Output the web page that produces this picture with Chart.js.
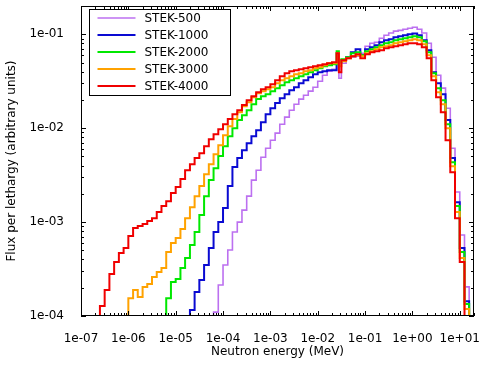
<!DOCTYPE html>
<html>
<head>
<meta charset="utf-8">
<script src="https://cdn.jsdelivr.net/npm/chart.js@4.4.1/dist/chart.umd.min.js"></script>
<style>
  html, body { margin: 0; padding: 0; background: #fff; }
  canvas { display: block; }
</style>
</head>
<body>
<canvas id="fluxChart" width="484" height="365"></canvas>
<script>
// Energy group boundaries (MeV), lower edges + final upper edge
const energyEdges = [
  1.00e-7, 1.26e-7, 1.58e-7, 2.00e-7, 2.51e-7, 3.16e-7, 3.98e-7, 5.01e-7, 6.31e-7, 7.94e-7,
  1.00e-6, 1.26e-6, 1.58e-6, 2.00e-6, 2.51e-6, 3.16e-6, 3.98e-6, 5.01e-6, 6.31e-6, 7.94e-6,
  1.00e-5, 1.26e-5, 1.58e-5, 2.00e-5, 2.51e-5, 3.16e-5, 3.98e-5, 5.01e-5, 6.31e-5, 7.94e-5,
  1.00e-4, 1.26e-4, 1.58e-4, 2.00e-4, 2.51e-4, 3.16e-4, 3.98e-4, 5.01e-4, 6.31e-4, 7.94e-4,
  1.00e-3, 1.26e-3, 1.58e-3, 2.00e-3, 2.51e-3, 3.16e-3, 3.98e-3, 5.01e-3, 6.31e-3, 7.94e-3,
  1.00e-2, 1.26e-2, 1.58e-2, 2.00e-2, 2.51e-2, 2.80e-2, 3.16e-2, 3.98e-2, 5.01e-2, 6.31e-2, 7.94e-2,
  1.00e-1, 1.26e-1, 1.58e-1, 2.00e-1, 2.51e-1, 3.16e-1, 3.98e-1, 5.01e-1, 6.31e-1, 7.94e-1,
  1.00, 1.26, 1.58, 2.00, 2.51, 3.16, 3.98, 5.01, 6.31, 7.94,
  10.0, 12.6, 15.8, 20.0
];

// flux per lethargy for each group (1e-5 = below the plotted range)
const stek500 = [
  1e-5, 1e-5, 1e-5, 1e-5, 1e-5, 1e-5, 1e-5, 1e-5, 1e-5, 1e-5,
  1e-5, 1e-5, 1e-5, 1e-5, 1e-5, 1e-5, 1e-5, 1e-5, 1e-5, 1e-5,
  1e-5, 1e-5, 1e-5, 1e-5, 1e-5, 1e-5, 1e-5, 1e-5, 1.10e-4, 2.14e-4,
  3.49e-4, 5.04e-4, 7.83e-4, 1.00e-3, 1.34e-3, 1.89e-3, 2.80e-3, 3.57e-3, 4.91e-3, 6.12e-3,
  7.45e-3, 8.85e-3, 1.10e-2, 1.31e-2, 1.55e-2, 1.80e-2, 2.04e-2, 2.24e-2, 2.48e-2, 2.73e-2,
  3.16e-2, 3.66e-2, 4.04e-2, 4.24e-2, 5.04e-2, 3.40e-2, 4.91e-2, 5.56e-2, 5.69e-2, 5.83e-2, 6.28e-2,
  7.45e-2, 8.02e-2, 8.22e-2, 9.06e-2, 9.75e-2, 1.03e-1, 1.08e-1, 1.10e-1, 1.13e-1, 1.16e-1,
  1.19e-1, 1.13e-1, 1.03e-1, 8.02e-2, 5.69e-2, 3.66e-2, 2.67e-2, 1.63e-2, 6.12e-3, 2.09e-3,
  7.28e-4, 2.04e-4, 1e-5
];
const stek1000 = [
  1e-5, 1e-5, 1e-5, 1e-5, 1e-5, 1e-5, 1e-5, 1e-5, 1e-5, 1e-5,
  1e-5, 1e-5, 1e-5, 1e-5, 1e-5, 1e-5, 1e-5, 1e-5, 1e-5, 1e-5,
  1e-5, 1e-5, 1e-5, 1.16e-4, 1.80e-4, 2.41e-4, 3.49e-4, 5.29e-4, 7.83e-4, 1.00e-3,
  1.41e-3, 2.42e-3, 3.85e-3, 4.80e-3, 5.83e-3, 6.92e-3, 8.22e-3, 9.52e-3, 1.16e-2, 1.41e-2,
  1.63e-2, 1.85e-2, 2.08e-2, 2.30e-2, 2.53e-2, 2.73e-2, 3.01e-2, 3.24e-2, 3.49e-2, 3.75e-2,
  3.94e-2, 4.04e-2, 4.14e-2, 4.14e-2, 6.28e-2, 5.04e-2, 5.28e-2, 5.69e-2, 6.44e-2, 6.92e-2, 5.98e-2,
  6.92e-2, 7.28e-2, 7.64e-2, 8.22e-2, 8.63e-2, 8.85e-2, 9.29e-2, 9.52e-2, 9.75e-2, 1.00e-1,
  1.02e-1, 9.75e-2, 8.63e-2, 6.76e-2, 3.94e-2, 3.01e-2, 2.30e-2, 1.22e-2, 4.80e-3, 1.63e-3,
  5.29e-4, 1.44e-4, 1e-5
];
const stek2000 = [
  1e-5, 1e-5, 1e-5, 1e-5, 1e-5, 1e-5, 1e-5, 1e-5, 1e-5, 1e-5,
  1e-5, 1e-5, 1e-5, 1e-5, 1e-5, 1e-5, 1e-5, 1e-5, 1.55e-4, 2.30e-4,
  2.48e-4, 3.24e-4, 4.14e-4, 5.70e-4, 7.83e-4, 1.19e-3, 1.89e-3, 2.80e-3, 3.75e-3, 5.04e-3,
  6.44e-3, 8.22e-3, 1.00e-2, 1.22e-2, 1.37e-2, 1.55e-2, 1.80e-2, 2.04e-2, 2.19e-2, 2.30e-2,
  2.48e-2, 2.67e-2, 2.86e-2, 3.08e-2, 3.24e-2, 3.40e-2, 3.57e-2, 3.75e-2, 3.94e-2, 4.14e-2,
  4.35e-2, 4.57e-2, 4.67e-2, 4.80e-2, 6.60e-2, 5.04e-2, 5.42e-2, 5.69e-2, 6.28e-2, 6.44e-2, 5.98e-2,
  6.60e-2, 6.92e-2, 7.28e-2, 7.64e-2, 8.02e-2, 8.22e-2, 8.63e-2, 8.85e-2, 9.06e-2, 9.29e-2,
  9.52e-2, 9.29e-2, 8.43e-2, 6.44e-2, 3.85e-2, 2.67e-2, 1.98e-2, 1.10e-2, 4.35e-3, 1.48e-3,
  4.80e-4, 1.34e-4, 1e-5
];
const stek3000 = [
  1e-5, 1e-5, 1e-5, 1e-5, 1e-5, 1e-5, 1e-5, 1e-5, 1e-5, 1e-5,
  1.55e-4, 1.89e-4, 1.59e-4, 2.04e-4, 2.19e-4, 2.60e-4, 2.94e-4, 3.24e-4, 4.80e-4, 5.98e-4,
  6.76e-4, 8.43e-4, 1.10e-3, 1.44e-3, 1.89e-3, 2.42e-3, 3.24e-3, 4.14e-3, 5.29e-3, 6.60e-3,
  8.42e-3, 1.05e-2, 1.25e-2, 1.48e-2, 1.71e-2, 1.89e-2, 2.14e-2, 2.36e-2, 2.48e-2, 2.60e-2,
  2.73e-2, 3.01e-2, 3.24e-2, 3.40e-2, 3.57e-2, 3.75e-2, 3.85e-2, 4.04e-2, 4.14e-2, 4.35e-2,
  4.46e-2, 4.67e-2, 4.91e-2, 4.91e-2, 6.28e-2, 4.57e-2, 5.16e-2, 5.56e-2, 5.83e-2, 5.98e-2, 5.83e-2,
  6.28e-2, 6.60e-2, 6.92e-2, 7.28e-2, 7.45e-2, 7.64e-2, 8.02e-2, 8.22e-2, 8.43e-2, 8.63e-2,
  8.85e-2, 8.63e-2, 7.83e-2, 5.98e-2, 3.57e-2, 2.42e-2, 1.80e-2, 1.00e-2, 3.94e-3, 1.28e-3,
  4.14e-4, 1.19e-4, 1e-5
];
const stek4000 = [
  1e-5, 1e-5, 1e-5, 1e-5, 1.28e-4, 1.89e-4, 2.80e-4, 3.75e-4, 4.68e-4, 5.29e-4,
  7.10e-4, 8.63e-4, 9.06e-4, 9.52e-4, 1.03e-3, 1.10e-3, 1.28e-3, 1.48e-3, 1.67e-3, 2.04e-3,
  2.36e-3, 2.87e-3, 3.57e-3, 4.14e-3, 4.80e-3, 5.42e-3, 6.44e-3, 7.64e-3, 8.63e-3, 9.75e-3,
  1.10e-2, 1.25e-2, 1.41e-2, 1.55e-2, 1.76e-2, 1.98e-2, 2.19e-2, 2.42e-2, 2.60e-2, 2.73e-2,
  2.94e-2, 3.24e-2, 3.57e-2, 3.85e-2, 4.04e-2, 4.14e-2, 4.24e-2, 4.35e-2, 4.46e-2, 4.57e-2,
  4.67e-2, 4.80e-2, 4.91e-2, 5.04e-2, 6.28e-2, 3.94e-2, 5.28e-2, 5.56e-2, 5.83e-2, 6.12e-2, 5.56e-2,
  6.12e-2, 6.44e-2, 6.60e-2, 6.76e-2, 7.10e-2, 7.28e-2, 7.45e-2, 7.64e-2, 7.83e-2, 8.02e-2,
  8.02e-2, 7.83e-2, 7.28e-2, 5.56e-2, 3.24e-2, 2.14e-2, 1.48e-2, 7.45e-3, 3.40e-3, 1.10e-3,
  3.75e-4, 1e-5, 1e-5
];

const seriesLabels = ['STEK-500', 'STEK-1000', 'STEK-2000', 'STEK-3000', 'STEK-4000'];
const seriesValues = [stek500, stek1000, stek2000, stek3000, stek4000];
const seriesColors = ['rgb(188,112,240)', '#0a0ad2', '#00e800', '#ffa200', '#f00000'];

const xTickValues = [1e-7, 1e-6, 1e-5, 1e-4, 1e-3, 1e-2, 1e-1, 1e0, 1e1];
const yTickValues = [1e-4, 1e-3, 1e-2, 1e-1];

const axisFont = { family: 'DejaVu Sans', size: 12 };

function expLabel(v) {
    const e = Math.round(Math.log10(v));
    return '1e' + (e < 0 ? '-' : '+') + String(Math.abs(e)).padStart(2, '0');
}

// histogram -> step points (value held until next edge)
function stepPoints(values) {
    const pts = values.map((v, i) => ({ x: energyEdges[i], y: v }));
    pts.push({ x: energyEdges[values.length], y: values[values.length - 1] });
    return pts;
}

function logMarks(min, max) {
    const out = [];
    for (let d = Math.floor(Math.log10(min)); d <= Math.ceil(Math.log10(max)); d++) {
        for (let m = 1; m < 10; m++) {
            const v = m * Math.pow(10, d);
            if (v >= min * 0.999 && v <= max * 1.001) out.push({ v: v, major: m === 1 });
        }
    }
    return out;
}

// frame, inward ticks on all four sides, boxed legend
const frameAndLegend = {
    id: 'frameAndLegend',
    afterDraw(chart) {
        const { ctx, chartArea: a, scales } = chart;
        const xs = scales.x, ys = scales.y;
        ctx.save();
        ctx.strokeStyle = '#000';
        ctx.lineWidth = 1;
        ctx.strokeRect(a.left + 0.5, a.top + 0.5, a.right - a.left - 1, a.bottom - a.top - 1);

        ctx.beginPath();
        logMarks(xs.min, xs.max).forEach(t => {
            const px = Math.round(xs.getPixelForValue(t.v)) + 0.5;
            const len = t.major ? 5 : 3;
            ctx.moveTo(px, a.bottom); ctx.lineTo(px, a.bottom - len);
            ctx.moveTo(px, a.top); ctx.lineTo(px, a.top + len);
        });
        logMarks(ys.min, ys.max).forEach(t => {
            const py = Math.round(ys.getPixelForValue(t.v)) + 0.5;
            const len = t.major ? 5 : 3;
            ctx.moveTo(a.left, py); ctx.lineTo(a.left + len, py);
            ctx.moveTo(a.right, py); ctx.lineTo(a.right - len, py);
        });
        ctx.stroke();

        // legend
        const bx = a.left + 8.5, by = a.top + 3.5, bw = 141, bh = 86;
        ctx.fillStyle = '#fff';
        ctx.fillRect(bx, by, bw, bh);
        ctx.strokeStyle = '#000';
        ctx.strokeRect(bx, by, bw, bh);
        ctx.font = '12px "DejaVu Sans"';
        ctx.textBaseline = 'middle';
        ctx.textAlign = 'left';
        seriesLabels.forEach((label, i) => {
            const ry = Math.round(by + 8 + i * 17.2);
            ctx.strokeStyle = seriesColors[i];
            ctx.lineWidth = i === 0 ? 1.6 : 2;
            ctx.beginPath();
            ctx.moveTo(bx + 8, ry);
            ctx.lineTo(bx + 46, ry);
            ctx.stroke();
            ctx.fillStyle = '#000';
            ctx.fillText(label, bx + 55, ry + 1);
        });
        ctx.restore();
    }
};

const datasets = seriesLabels.map((label, i) => ({
    label: label,
    data: stepPoints(seriesValues[i]),
    borderColor: seriesColors[i],
    borderWidth: i === 0 ? 1.6 : 2,
    stepped: true,
    fill: false,
    pointRadius: 0,
    order: seriesLabels.length - i
}));

new Chart(document.getElementById('fluxChart'), {
    type: 'line',
    data: { datasets: datasets },
    options: {
        responsive: false,
        animation: false,
        devicePixelRatio: 1,
        layout: { padding: { top: 6, right: 10, left: 0, bottom: 0 } },
        plugins: { legend: { display: false }, tooltip: { enabled: false } },
        scales: {
            x: {
                type: 'logarithmic',
                min: 1e-7,
                max: 20,
                bounds: 'data',
                afterBuildTicks: s => { s.ticks = xTickValues.map(v => ({ value: v })); },
                afterFit: s => { s.height = 49; s.paddingLeft = 0; s.paddingRight = 0; },
                grid: { display: false },
                border: { display: false },
                ticks: { autoSkip: false, maxRotation: 0, padding: 8, color: '#000', font: axisFont, callback: v => expLabel(v) },
                title: { display: true, text: 'Neutron energy (MeV)', color: '#000', font: axisFont, padding: { top: 0, bottom: 6 } }
            },
            y: {
                type: 'logarithmic',
                min: 1e-4,
                max: 0.2,
                bounds: 'data',
                afterBuildTicks: s => { s.ticks = yTickValues.map(v => ({ value: v })); },
                afterFit: s => { s.width = 81; s.paddingTop = 0; s.paddingBottom = 0; },
                grid: { display: false },
                border: { display: false },
                ticks: { autoSkip: false, padding: 9, color: '#000', font: axisFont, callback: v => expLabel(v) },
                title: { display: true, text: 'Flux per lethargy (arbitrary units)', color: '#000', font: axisFont, padding: { top: 5, bottom: 0 } }
            }
        }
    },
    plugins: [frameAndLegend]
});
</script>
</body>
</html>
